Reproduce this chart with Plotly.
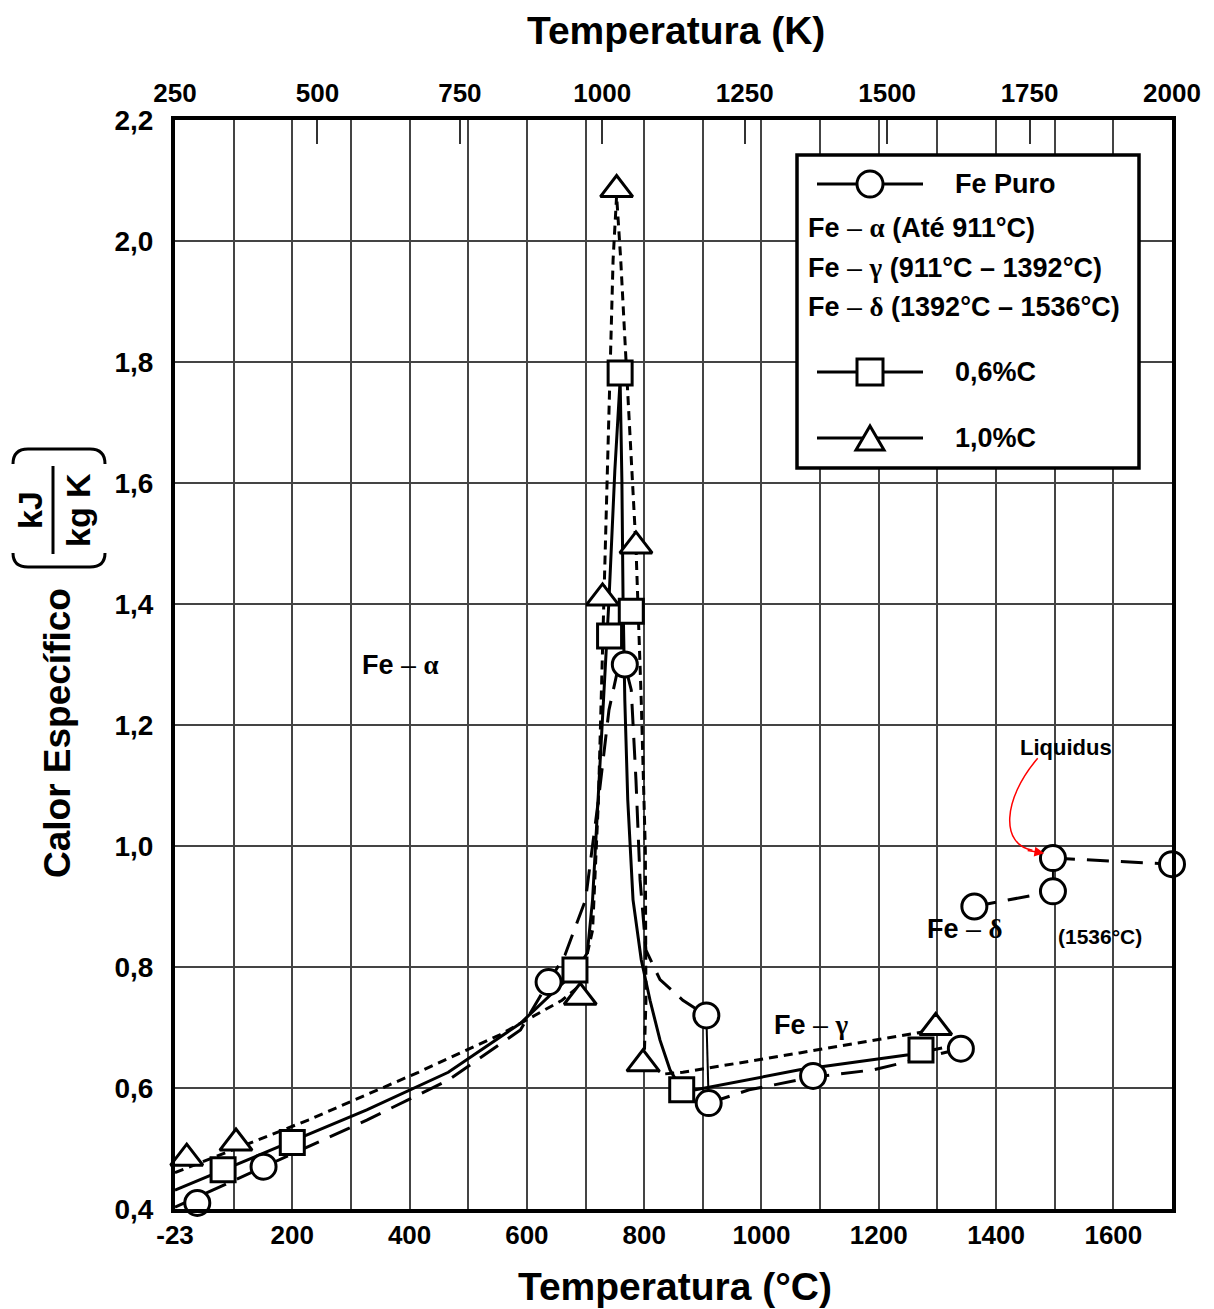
import plotly.graph_objects as go

# ---------------- data ----------------
# Fe puro: markers (circles)
fe_T = [38, 151, 637, 767, 906, 910, 1088, 1340, 1363, 1497, 1497, 1700]
fe_cp = [0.41, 0.47, 0.775, 1.30, 0.72, 0.575, 0.62, 0.665, 0.90, 0.925, 0.98, 0.97]
# Fe puro curves (long dash)
fe_alpha_T = [0, 327, 466, 589, 637, 665, 700, 722, 740, 753, 767, 778, 786, 793, 803, 827, 866, 906]
fe_alpha_cp = [0.403, 0.547, 0.613, 0.696, 0.775, 0.820, 0.911, 1.076, 1.225, 1.283, 1.30, 1.258, 1.109, 0.944, 0.828, 0.779, 0.745, 0.72]
fe_trans_T = [906, 910]
fe_trans_cp = [0.72, 0.575]
fe_gamma_T = [910, 979, 1088, 1191, 1340]
fe_gamma_cp = [0.575, 0.597, 0.618, 0.630, 0.665]
fe_delta_T = [1363, 1497]
fe_delta_cp = [0.90, 0.925]
fe_melt_T = [1497, 1497]
fe_melt_cp = [0.925, 0.98]
fe_liq_T = [1497, 1700]
fe_liq_cp = [0.98, 0.97]

# 0,6%C: markers (squares) and curve (solid)
c6_T = [82, 200, 682, 741, 759, 778, 864, 1272]
c6_cp = [0.465, 0.51, 0.795, 1.347, 1.782, 1.388, 0.597, 0.663]
c6_curve_T = [0, 327, 466, 589, 682, 703, 712, 726, 740, 750, 759, 762, 764, 767, 772, 781, 795, 810, 827, 844, 864, 888, 1065, 1251, 1308]
c6_curve_cp = [0.431, 0.564, 0.626, 0.707, 0.792, 0.823, 0.911, 1.159, 1.407, 1.621, 1.77, 1.605, 1.407, 1.241, 1.076, 0.911, 0.812, 0.745, 0.679, 0.630, 0.597, 0.597, 0.630, 0.655, 0.666]

# 1,0%C: markers (triangles) and curve (short dash)
c10_T = [20, 104, 691, 729, 753, 786, 798, 1297]
c10_cp = [0.484, 0.509, 0.75, 1.41, 2.085, 1.496, 0.64, 0.70]
c10_curve_T = [0, 227, 415, 554, 660, 691, 712, 722, 729, 738, 747, 753, 760, 769, 778, 786, 795, 802, 803, 800, 832, 866, 1065, 1296]
c10_curve_cp = [0.460, 0.547, 0.626, 0.688, 0.745, 0.770, 0.861, 1.076, 1.324, 1.655, 1.969, 2.075, 1.969, 1.803, 1.638, 1.494, 1.241, 0.993, 0.745, 0.646, 0.623, 0.626, 0.658, 0.696]

# axes ticks (the reference labels its left edge "-23")
x_tickvals = list(range(0, 1701, 100))
x_ticktext = ["-23"] + [str(v) if v % 200 == 0 and v < 1700 else "" for v in range(100, 1701, 100)]
k_ticks = [250, 500, 750, 1000, 1250, 1500, 1750, 2000]
y_tickvals = [0.4, 0.6, 0.8, 1.0, 1.2, 1.4, 1.6, 1.8, 2.0, 2.2]
y_ticktext = ["0,4", "0,6", "0,8", "1,0", "1,2", "1,4", "1,6", "1,8", "2,0", "2,2"]

FONT = "Liberation Sans, Arial, sans-serif"
SERIF = "Liberation Serif, Times New Roman, serif"

# target plot area in window pixels (page body has an 8px margin)
OFF = 8
L, R, T, B = 175, 1172, 120, 1209
W, H = 1214 - OFF, 1309 - OFF


def px(x):
    return (x - L) / (R - L)


def py(y):
    return (B - y) / (B - T)


fig = go.Figure()

LONG = "22px,12px"
SHORT = "9px,6px"


def line(xs, ys, dash, width=3):
    fig.add_trace(go.Scatter(x=xs, y=ys, mode="lines",
                             line=dict(color="black", width=width, dash=dash),
                             showlegend=False, hoverinfo="skip"))


line(c10_curve_T, c10_curve_cp, SHORT, 3)
line(c6_curve_T, c6_curve_cp, "solid", 3)
line(fe_alpha_T, fe_alpha_cp, LONG, 3)
line(fe_trans_T, fe_trans_cp, "solid", 2)
line(fe_gamma_T, fe_gamma_cp, LONG, 3)
line(fe_delta_T, fe_delta_cp, LONG, 3)
line(fe_melt_T, fe_melt_cp, "solid", 2)
line(fe_liq_T, fe_liq_cp, LONG, 3)


def markers(xs, ys, symbol, size):
    fig.add_trace(go.Scatter(x=xs, y=ys, mode="markers", cliponaxis=False,
                             marker=dict(symbol=symbol, size=size, color="white",
                                         line=dict(color="black", width=3)),
                             showlegend=False, hoverinfo="skip"))


markers(c10_T, c10_cp, "triangle-up", 28)
markers(c6_T, c6_cp, "square", 24)
markers(fe_T, fe_cp, "circle", 25)

# invisible trace to activate the top (Kelvin) axis
fig.add_trace(go.Scatter(x=[250, 2000], y=[0.4, 0.4], xaxis="x2", mode="lines",
                         line=dict(width=0), opacity=0, showlegend=False, hoverinfo="skip"))

tickfont = dict(family=FONT, size=26, color="black", weight="bold")

fig.update_layout(
    width=W, height=H,
    margin=dict(l=L - OFF, r=W + OFF - R, t=T - OFF, b=H + OFF - B),
    plot_bgcolor="white", paper_bgcolor="white",
    showlegend=False,
    xaxis=dict(range=[0, 1700], tickmode="array", tickvals=x_tickvals, ticktext=x_ticktext,
               showgrid=True, gridcolor="#444", gridwidth=1.5,
               showline=True, linecolor="black", linewidth=4, mirror=True,
               ticks="", tickfont=tickfont, ticklabelstandoff=0, zeroline=False),
    xaxis2=dict(range=[250, 2000], overlaying="x", side="top", tickmode="array",
                tickvals=k_ticks, ticktext=[str(v) for v in k_ticks],
                ticks="inside", ticklen=24, tickwidth=1.5, tickcolor="#333",
                showgrid=False, showline=False, tickfont=tickfont, ticklabelstandoff=12,
                zeroline=False),
    yaxis=dict(range=[0.4, 2.2], tickmode="array", tickvals=y_tickvals, ticktext=y_ticktext,
               showgrid=True, gridcolor="#444", gridwidth=1.5,
               showline=True, linecolor="black", linewidth=4, mirror=True,
               ticks="", tickfont=dict(family=FONT, size=28, color="black", weight="bold"),
               ticklabelstandoff=12, zeroline=False),
)

ann = []
shapes = []


def text(xp, yp, s, size, angle=0, xanchor="center", family=FONT, color="black"):
    ann.append(dict(x=px(xp), y=py(yp), xref="paper", yref="paper", text=s, showarrow=False,
                    xanchor=xanchor, yanchor="middle", textangle=angle,
                    font=dict(family=family, size=size, color=color)))


# axis titles
text(676, 30, "<b>Temperatura (K)</b>", 39)
text(675, 1286, "<b>Temperatura (°C)</b>", 39)
text(57, 733, "<b>Calor Específico</b>", 37, angle=-90)
text(30, 510, "<b>kJ</b>", 34, angle=-90)
text(78, 510, "<b>kg K</b>", 34, angle=-90)
# fraction bar
shapes.append(dict(type="line", xref="paper", yref="paper", x0=px(53), x1=px(53), y0=py(466), y1=py(554),
                   line=dict(color="black", width=3)))
# brackets
top_br = (f"M {px(13)},{py(464)} Q {px(13)},{py(449)} {px(28)},{py(449)} "
          f"L {px(90)},{py(449)} Q {px(105)},{py(449)} {px(105)},{py(464)}")
bot_br = (f"M {px(13)},{py(553)} Q {px(13)},{py(567)} {px(28)},{py(567)} "
          f"L {px(90)},{py(567)} Q {px(105)},{py(567)} {px(105)},{py(553)}")
for p in (top_br, bot_br):
    shapes.append(dict(type="path", xref="paper", yref="paper", path=p, line=dict(color="black", width=3)))


def phase(x, y, greek, size=27):
    ann.append(dict(x=x, y=y, xref="x", yref="y", showarrow=False, xanchor="center", yanchor="middle",
                    text=f"<b>Fe</b> – <span style='font-family:{SERIF}'><b>{greek}</b></span>",
                    font=dict(family=FONT, size=size, color="black")))


phase(384, 1.30, "α")
phase(1086, 0.704, "γ")
phase(1347, 0.862, "δ")
ann.append(dict(x=1578, y=0.850, xref="x", yref="y", showarrow=False, text="<b>(1536°C)</b>",
                font=dict(family=FONT, size=21, color="black")))
ann.append(dict(x=1519, y=1.162, xref="x", yref="y", showarrow=False, text="<b>Liquidus</b>",
                font=dict(family=FONT, size=22, color="black")))
# red curved arrow
shapes.append(dict(type="path", xref="x", yref="y",
                   path="M 1471,1.145 C 1410,1.076 1408,1.002 1462,0.993",
                   line=dict(color="red", width=1.5)))
ann.append(dict(x=1482, y=0.988, xref="x", yref="y", ax=-18, ay=-3, text="", showarrow=True,
                arrowhead=2, arrowsize=1.3, arrowwidth=1.5, arrowcolor="red"))

# custom legend box
shapes.append(dict(type="rect", xref="paper", yref="paper", x0=px(797), x1=px(1139), y0=py(155), y1=py(468),
                   line=dict(color="black", width=3.5), fillcolor="white", layer="above"))
for yy in (184, 372, 438):
    shapes.append(dict(type="line", xref="paper", yref="paper", x0=px(817), x1=px(923), y0=py(yy), y1=py(yy),
                       line=dict(color="black", width=3), layer="above"))
shapes.append(dict(type="circle", xref="paper", yref="paper", x0=px(857), x1=px(883), y0=py(197), y1=py(171),
                   line=dict(color="black", width=3), fillcolor="white", layer="above"))
shapes.append(dict(type="rect", xref="paper", yref="paper", x0=px(857), x1=px(883), y0=py(385), y1=py(359),
                   line=dict(color="black", width=3), fillcolor="white", layer="above"))
tri = f"M {px(856)},{py(450)} L {px(884)},{py(450)} L {px(870)},{py(426)} Z"
shapes.append(dict(type="path", xref="paper", yref="paper", path=tri,
                   line=dict(color="black", width=3), fillcolor="white", layer="above"))

text(953, 184, "<b>Fe Puro</b>", 27, xanchor="left")
text(953, 372, "<b>0,6%C</b>", 27, xanchor="left")
text(953, 438, "<b>1,0%C</b>", 27, xanchor="left")


def legtext(y, greek, rest):
    ann.append(dict(x=px(806), y=py(y), xref="paper", yref="paper", showarrow=False, xanchor="left",
                    yanchor="middle",
                    text=f"<b>Fe</b> – <span style='font-family:{SERIF}'><b>{greek}</b></span> <b>{rest}</b>",
                    font=dict(family=FONT, size=27, color="black")))


legtext(228, "α", "(Até 911°C)")
legtext(268, "γ", "(911°C – 1392°C)")
legtext(307, "δ", "(1392°C – 1536°C)")

fig.update_layout(annotations=ann, shapes=shapes)
fig.write_html("out.html")
